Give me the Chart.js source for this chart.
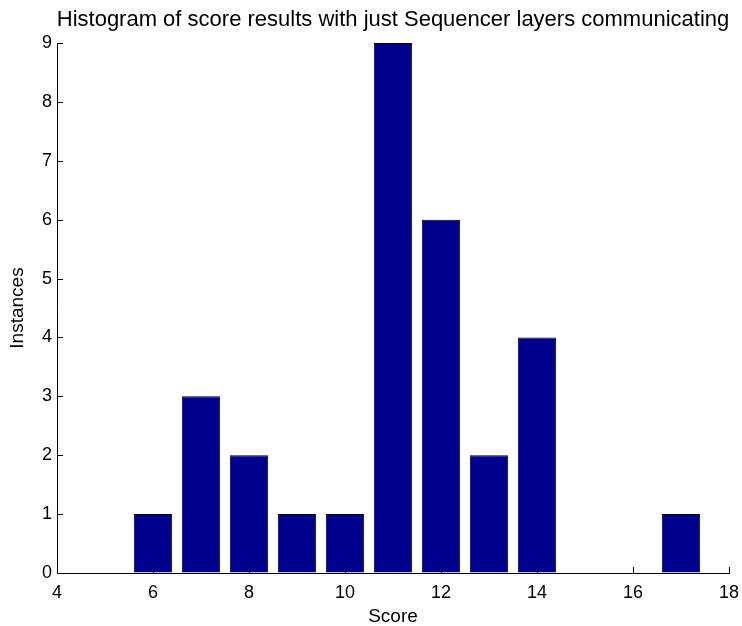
<!DOCTYPE html>
<html>
<head>
<meta charset="utf-8">
<script src="https://cdn.jsdelivr.net/npm/chart.js@4/dist/chart.umd.min.js"></script>
<style>
html,body{margin:0;padding:0;background:#fff;}
canvas{display:block;}
</style>
</head>
<body>
<canvas id="c" width="742" height="626"></canvas>
<script>
const chartTitle = "Histogram of score results with just Sequencer layers communicating";
const xTitle = "Score";
const yTitle = "Instances";
const scores = [6, 7, 8, 9, 10, 11, 12, 13, 14, 15, 16, 17];
const counts = [1, 3, 2, 1, 1, 9, 6, 2, 4, 0, 0, 1];
const xMin = 4, xMax = 18, xStep = 2;
const yMin = 0, yMax = 9, yStep = 1;

const FONT = "'Liberation Sans', Arial, sans-serif";

const inwardTicks = {
  id: 'inwardTicks',
  afterDraw(chart) {
    const ctx = chart.ctx;
    const a = chart.chartArea;
    const xs = chart.scales.x, ys = chart.scales.y;
    ctx.save();
    ctx.strokeStyle = '#000';
    ctx.lineWidth = 1;
    ctx.beginPath();
    xs.ticks.forEach(t => {
      const px = Math.round(xs.getPixelForValue(t.value)) + 0.5;
      ctx.moveTo(px, a.bottom);
      ctx.lineTo(px, a.bottom - 6);
    });
    ys.ticks.forEach(t => {
      const py = Math.round(ys.getPixelForValue(t.value)) + 0.5;
      ctx.moveTo(a.left, py);
      ctx.lineTo(a.left + 6, py);
    });
    ctx.stroke();
    // title centred over plot area
    ctx.fillStyle = '#000';
    ctx.font = "22px " + FONT;
    ctx.textAlign = 'center';
    ctx.textBaseline = 'middle';
    ctx.fillText(chartTitle, (a.left + a.right) / 2, 20);
    ctx.restore();
  }
};

new Chart(document.getElementById('c'), {
  type: 'bar',
  data: {
    datasets: [{
      data: scores.map((s, i) => ({x: s, y: counts[i]})),
      backgroundColor: '#00008F',
      borderColor: '#000000',
      borderWidth: 1,
      barPercentage: 1,
      categoryPercentage: 0.8
    }]
  },
  options: {
    responsive: false,
    devicePixelRatio: 1,
    animation: false,
    layout: {padding: {top: 43, right: 13, left: 0, bottom: 0}},
    plugins: {legend: {display: false}, tooltip: {enabled: false}, title: {display: false}},
    scales: {
      x: {
        type: 'linear', min: xMin, max: xMax,
        offset: false,
        grid: {drawOnChartArea: false, drawTicks: false},
        border: {display: true, color: '#000', width: 1},
        ticks: {stepSize: xStep, color: '#000', font: {family: FONT, size: 18}, padding: 9, maxRotation: 0},
        title: {display: true, text: xTitle, color: '#000', font: {family: FONT, size: 19, lineHeight: 1}, padding: {top: 0, bottom: 0}},
        afterFit(s) { s.height = 53; s.paddingLeft = 0; s.paddingRight = 0; }
      },
      y: {
        type: 'linear', min: yMin, max: yMax,
        grid: {drawOnChartArea: false, drawTicks: false},
        border: {display: true, color: '#000', width: 1},
        ticks: {stepSize: yStep, color: '#000', font: {family: FONT, size: 18}, padding: 5},
        title: {display: true, text: yTitle, color: '#000', font: {family: FONT, size: 19, lineHeight: 1}, padding: {top: 8, bottom: 0}},
        afterFit(s) { s.width = 57; s.paddingTop = 0; s.paddingBottom = 0; }
      }
    }
  },
  plugins: [inwardTicks]
});
</script>
</body>
</html>
